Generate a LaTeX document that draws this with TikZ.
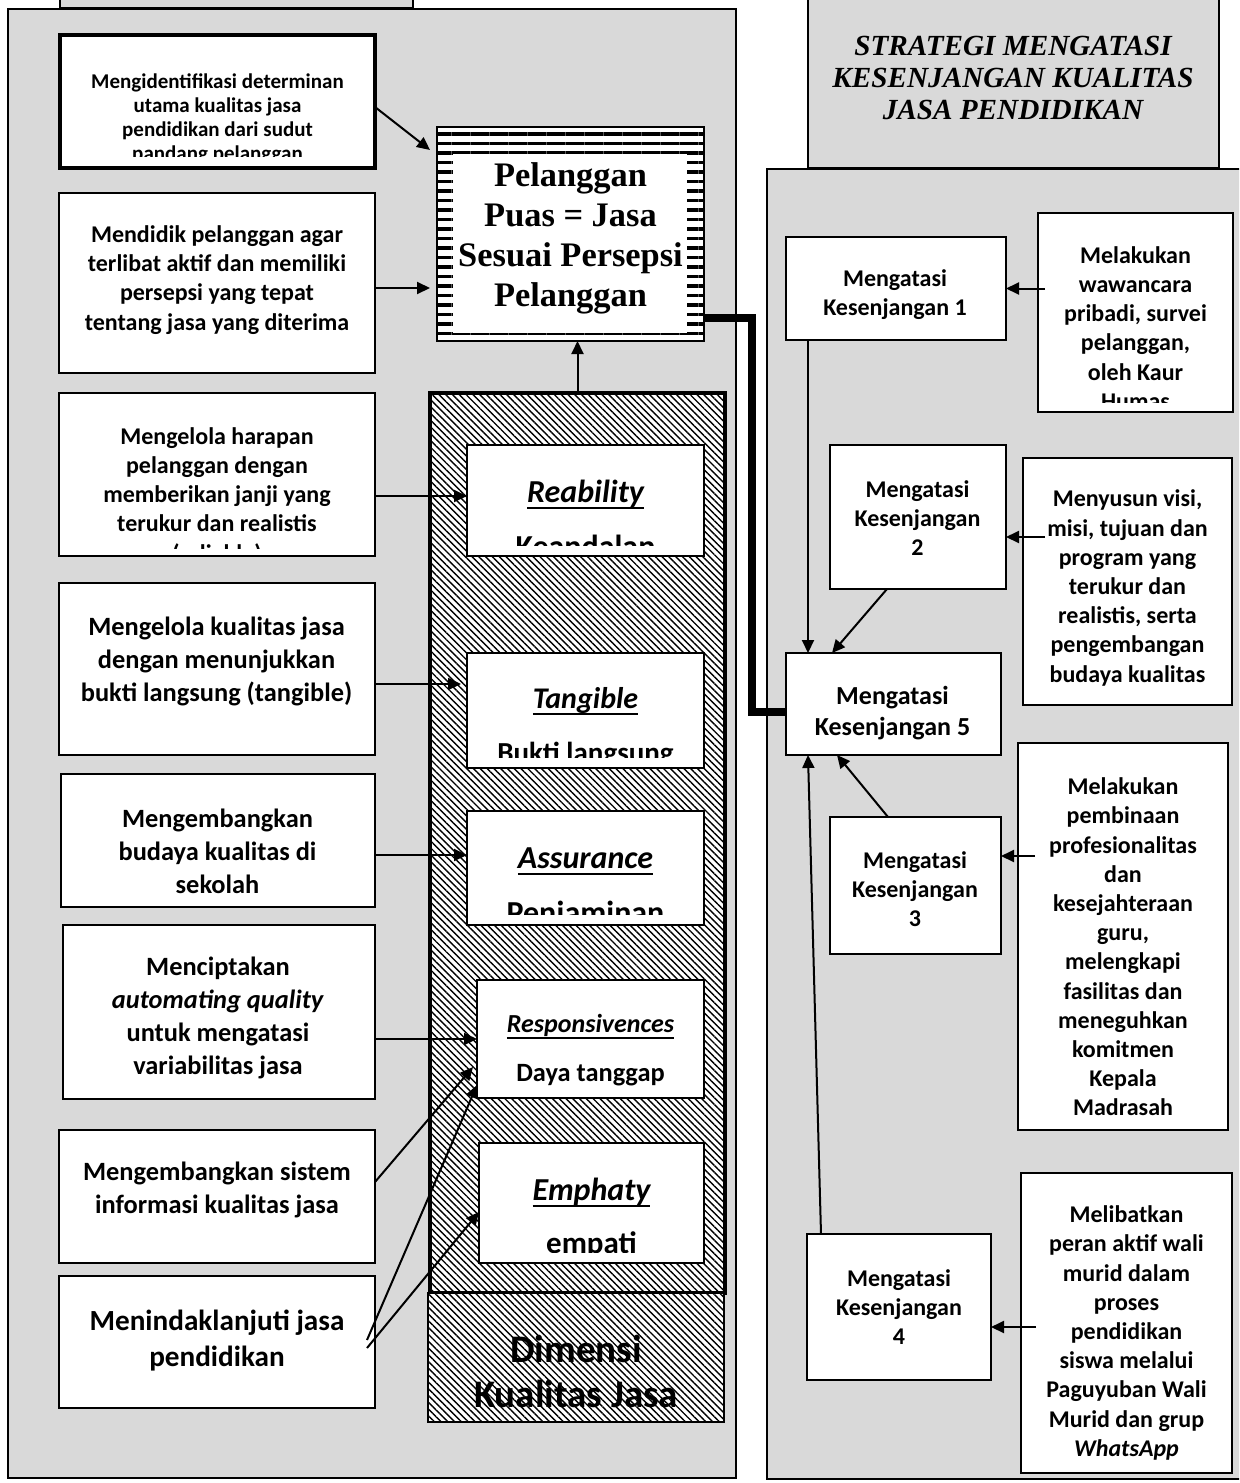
\documentclass[tikz,border=0pt]{standalone}
\usepackage{fontspec}
\setmainfont{Carlito}
\newfontfamily\timesfont{Liberation Serif}
\usetikzlibrary{arrows.meta, fit, patterns.meta}
\definecolor{panelgray}{HTML}{D9D9D9}
\newsavebox\ulbox
\newcommand{\uword}[1]{\sbox\ulbox{#1}\rlap{\rule[-3.4pt]{\wd\ulbox}{1pt}}\usebox\ulbox}

\begin{document}
\begin{tikzpicture}[
  x=0.5pt, y=-0.5pt,
  panel/.style={draw, line width=1pt, fill=panelgray, inner sep=0pt, outer sep=0pt},
  box/.style={draw, line width=1pt, fill=white, inner sep=0pt, outer sep=0pt},
  txt/.style={inner sep=0pt, align=center, font=\bfseries\fontsize{12}{14.6}\selectfont},
  bigtxt/.style={txt, font=\bfseries\fontsize{13.2}{16.5}\selectfont},
  dimhead/.style={inner sep=0pt, font=\bfseries\itshape\fontsize{16}{19}\selectfont},
  dimsub/.style={inner sep=0pt, font=\bfseries\fontsize{16}{19}\selectfont},
  hatch/.style={draw, inner sep=0pt, outer sep=0pt, preaction={fill=white},
    pattern={Lines[angle=-45, distance=2.4pt, line width=0.7pt]}},
  stripes/.style={draw, line width=1pt, inner sep=0pt, outer sep=0pt, preaction={fill=white},
    pattern={Lines[distance=4.75pt, line width=1.6pt]}},
  arr/.style={-{Triangle[length=6.5pt, width=6pt]}, line width=1pt}
]
\clip (0,0) rectangle (1239,1483);
\fill[white] (0,0) rectangle (1239,1483);

\node[panel, fit={(60,-20) (413,8)}] (tab) {};
\node[panel, fit={(8,9) (736,1478)}] (leftpanel) {};
\node[panel, fit={(767,169) (1260,1479)}] (rightpanel) {};
\node[panel, fit={(808,-20) (1219,168)}] (title) {};
\node[txt, font=\timesfont\bfseries\itshape\fontsize{14.6}{15.8}\selectfont] (titleText)
  at (1013,78) {STRATEGI MENGATASI\\KESENJANGAN KUALITAS\\JASA PENDIDIKAN};

\node[box, line width=2pt, fit={(60,35) (375,168)}] (ident) {};
\begin{scope}
  \clip (ident.north west) rectangle ([shift={(0,-12)}]ident.south east);
  \node[txt, font=\bfseries\fontsize{10.5}{12}\selectfont] (identText) at (217.5,119)
    {Mengidentifikasi determinan\\utama kualitas jasa\\pendidikan dari sudut\\pandang pelanggan};
\end{scope}
\node[box, fit={(59,193) (375,373)}] (didik) {};
\node[txt] (didikText) at (217,280)
  {Mendidik pelanggan agar\\terlibat aktif dan memiliki\\persepsi yang tepat\\tentang jasa yang diterima};
\node[box, fit={(59,393) (375,556)}] (harapan) {};
\begin{scope}
  \clip (harapan.north west) rectangle ([shift={(0,-8)}]harapan.south east);
  \node[txt] (harapanText) at (217,496)
    {Mengelola harapan\\pelanggan dengan\\memberikan janji yang\\terukur dan realistis\\(reliable)};
\end{scope}
\node[box, fit={(59,583) (375,755)}] (kelola) {};
\node[bigtxt] (kelolaText) at (216.5,661)
  {Mengelola kualitas jasa\\dengan menunjukkan\\bukti langsung (tangible)};
\node[box, fit={(61,774) (375,907)}] (budaya) {};
\node[bigtxt] (budayaText) at (217.5,851)
  {Mengembangkan\\budaya kualitas di\\sekolah};
\node[box, fit={(63,925) (375,1099)}] (cipta) {};
\node[bigtxt] (ciptaText) at (218,1018)
  {Menciptakan\\\textit{automating quality}\\untuk mengatasi\\variabilitas jasa};
\node[box, fit={(59,1130) (375,1263)}] (sistem) {};
\node[bigtxt] (sistemText) at (217,1190)
  {Mengembangkan sistem\\informasi kualitas jasa};
\node[box, fit={(59,1276) (375,1408)}] (tindak) {};
\node[txt, font=\bfseries\fontsize{14.6}{18}\selectfont] (tindakText) at (217,1341)
  {Menindaklanjuti jasa\\pendidikan};

\node[stripes, fit={(437,127) (704,341)}] (puas) {};
\node[fill=white, inner sep=0pt, outer sep=0pt, fit={(453,154) (687,333)}] (puasIn) {};
\node[txt, font=\timesfont\bfseries\fontsize{17.2}{20}\selectfont] (puasText)
  at (570.5,238) {Pelanggan\\Puas = Jasa\\Sesuai Persepsi\\Pelanggan};

\node[hatch, line width=2pt, fit={(430,393) (725,1293)}] (col) {};
\node[hatch, line width=1pt, fit={(428,1293) (724,1422)}] (dim) {};
\node[txt, font=\bfseries\fontsize{19.5}{22.5}\selectfont] (dimText)
  at (576,1371) {Dimensi\\Kualitas Jasa};

\node[box, fit={(467,445) (704,556)}] (rel) {};
\begin{scope}
  \clip (rel.north west) rectangle ([shift={(0,-11)}]rel.south east);
  \node[dimhead, anchor=base] (relHead) at (585.5,502) {\uword{Reability}};
  \node[dimsub, anchor=base] (relSub) at (585.5,557) {Keandalan};
\end{scope}
\node[box, fit={(467,653) (704,768)}] (tan) {};
\begin{scope}
  \clip (tan.north west) rectangle ([shift={(0,-11)}]tan.south east);
  \node[dimhead, anchor=base, font=\bfseries\itshape\fontsize{15}{18}\selectfont] (tanHead)
    at (585.5,708) {\uword{Tangible}};
  \node[dimsub, anchor=base, font=\bfseries\fontsize{14.5}{18}\selectfont] (tanSub)
    at (585.5,762) {Bukti langsung};
\end{scope}
\node[box, fit={(467,811) (704,925)}] (ass) {};
\begin{scope}
  \clip (ass.north west) rectangle ([shift={(0,-11)}]ass.south east);
  \node[dimhead, anchor=base] (assHead) at (585.5,868) {\uword{Assurance}};
  \node[dimsub, anchor=base] (assSub) at (585.5,923) {Penjaminan};
\end{scope}
\node[box, fit={(477,980) (704,1098)}] (resp) {};
\node[dimhead, anchor=base, font=\bfseries\itshape\fontsize{13}{16}\selectfont] (respHead)
  at (590.5,1032) {\uword{Responsivences}};
\node[dimsub, anchor=base, font=\bfseries\fontsize{13.2}{16}\selectfont] (respSub)
  at (590.5,1081) {Daya tanggap};
\node[box, fit={(479,1143) (704,1263)}] (emp) {};
\begin{scope}
  \clip (emp.north west) rectangle ([shift={(0,-11)}]emp.south east);
  \node[dimhead, anchor=base] (empHead) at (591.5,1200) {\uword{Emphaty}};
  \node[dimsub, anchor=base, font=\bfseries\fontsize{15.5}{18}\selectfont] (empSub)
    at (591.5,1253) {empati};
\end{scope}

\node[box, fit={(786,237) (1006,340)}] (gap1) {};
\node[txt] (gap1Text) at (895,295) {Mengatasi\\Kesenjangan 1};
\node[box, fit={(1038,213) (1233,412)}] (survey) {};
\begin{scope}
  \clip (survey.north west) rectangle ([shift={(0,-10)}]survey.south east);
  \node[txt] (surveyText) at (1135.5,328)
    {Melakukan\\wawancara\\pribadi, survei\\pelanggan,\\oleh Kaur\\Humas};
\end{scope}
\node[box, fit={(830,445) (1006,589)}] (gap2) {};
\node[txt] (gap2Text) at (917.5,518) {Mengatasi\\Kesenjangan\\2};
\node[box, fit={(1023,458) (1232,705)}] (visi) {};
\node[txt] (visiText) at (1127.5,588)
  {Menyusun visi,\\misi, tujuan dan\\program yang\\terukur dan\\realistis, serta\\pengembangan\\budaya kualitas};
\node[box, fit={(786,653) (1001,755)}] (gap5) {};
\node[txt, font=\bfseries\fontsize{13}{15.5}\selectfont] (gap5Text) at (892.5,713)
  {Mengatasi\\Kesenjangan 5};
\node[box, fit={(830,817) (1001,954)}] (gap3) {};
\node[txt] (gap3Text) at (915,889) {Mengatasi\\Kesenjangan\\3};
\node[box, fit={(1018,743) (1228,1130)}] (bina) {};
\node[txt] (binaText) at (1123,947)
  {Melakukan\\pembinaan\\profesionalitas\\dan\\kesejahteraan\\guru,\\melengkapi\\fasilitas dan\\meneguhkan\\komitmen\\Kepala\\Madrasah};
\node[box, fit={(807,1234) (991,1380)}] (gap4) {};
\node[txt] (gap4Text) at (899,1307) {Mengatasi\\Kesenjangan\\4};
\node[box, fit={(1021,1173) (1232,1473)}] (wali) {};
\node[txt] (waliText) at (1126.5,1333)
  {Melibatkan\\peran aktif wali\\murid dalam\\proses\\pendidikan\\siswa melalui\\Paguyuban Wali\\Murid dan grup\\\textit{WhatsApp}};

\draw[arr] ([yshift=-2.75pt]ident.east) -- ([shift={(-7,23)}]puas.north west);
\draw[arr, shorten >=3.5pt] ([yshift=-2.5pt]didik.east) -- ([yshift=-2.5pt]didik.east -| puas.west);
\draw[arr] ([yshift=-10.75pt]harapan.east) -- ([yshift=-10.75pt]harapan.east -| rel.west);
\draw[arr, shorten >=3pt] ([yshift=-7.5pt]kelola.east) -- ([yshift=-7.5pt]kelola.east -| tan.west);
\draw[arr] ([yshift=-7.25pt]budaya.east) -- ([yshift=-7.25pt]budaya.east -| ass.west);
\draw[arr] (cipta.east |- resp.west) -- (resp.west);
\draw[arr] ([yshift=7.25pt]sistem.east) -- ([shift={(-4,28)}]resp.west);
\draw[arr] ([shift={(-8,-2)}]tindak.east) -- ([yshift=-23pt]resp.west);
\draw[arr] ([shift={(-8,6)}]tindak.east) -- ([yshift=-4.5pt]emp.west);
\draw[arr] (col.north) -- (col.north |- puas.south);
\draw[line width=4pt] ([yshift=11.5pt]puas.south east) -- ++(48,0) |- ([yshift=-4pt]gap5.west);

\draw[arr] ([xshift=3.5pt]survey.west |- gap1.east) -- (gap1.east);
\draw[arr] ([xshift=11pt, yshift=-10pt]visi.west |- gap2.east) -- ([yshift=-10pt]gap2.east);
\draw[arr] ([xshift=11pt]gap1.south west) -- ([xshift=11pt]gap5.north west);
\draw[arr] ([xshift=28.5pt]gap2.south west) -- ([xshift=23pt]gap5.north west);
\draw[arr] ([xshift=29pt]gap3.north west) -- ([xshift=25.5pt]gap5.south west);
\draw[arr] ([xshift=7pt]gap4.north west) -- ([xshift=11pt]gap5.south west);
\draw[arr] ([xshift=8.5pt, yshift=14.75pt]bina.west |- gap3.east) -- ([yshift=14.75pt]gap3.east);
\draw[arr] ([xshift=7.5pt, yshift=-10pt]wali.west |- gap4.east) -- ([yshift=-10pt]gap4.east);
\end{tikzpicture}
\end{document}
